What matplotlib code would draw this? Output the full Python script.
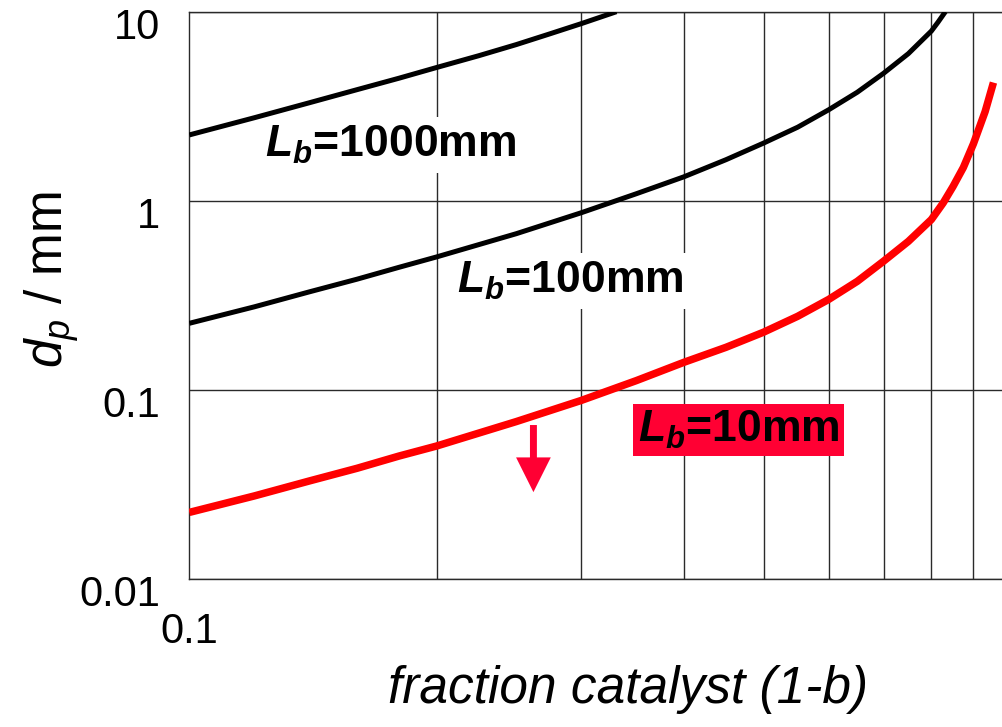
import matplotlib
matplotlib.use("Agg")
import matplotlib.pyplot as plt
from matplotlib.ticker import FixedLocator, FixedFormatter, NullLocator, NullFormatter
from matplotlib.transforms import ScaledTranslation

# Particle diameter versus catalyst fraction for three bed lengths
x_lb1000 = [0.100, 0.120, 0.140, 0.160, 0.180, 0.200, 0.225, 0.250, 0.275, 0.300, 0.331]
y_lb1000 = [2.23, 2.75, 3.30, 3.87, 4.45, 5.07, 5.85, 6.70, 7.65, 8.65, 10.0]

x_lb100 = [0.100, 0.120, 0.140, 0.160, 0.180, 0.200, 0.250, 0.300, 0.350, 0.400,
           0.450, 0.500, 0.550, 0.600, 0.650, 0.700, 0.750, 0.800, 0.815, 0.832]
y_lb100 = [0.225, 0.275, 0.330, 0.385, 0.445, 0.505, 0.670, 0.865, 1.09, 1.34,
           1.65, 2.02, 2.45, 3.03, 3.75, 4.73, 6.00, 7.90, 8.80, 10.0]

x_lb10 = [0.100, 0.120, 0.140, 0.160, 0.180, 0.200, 0.250, 0.300, 0.350, 0.400,
          0.450, 0.500, 0.550, 0.600, 0.650, 0.700, 0.750, 0.800, 0.827, 0.850,
          0.875, 0.900, 0.930, 0.952]
y_lb10 = [0.0225, 0.0275, 0.0330, 0.0385, 0.0447, 0.0505, 0.068, 0.088, 0.112, 0.140,
          0.168, 0.202, 0.245, 0.301, 0.375, 0.480, 0.610, 0.796, 0.975, 1.19,
          1.50, 2.00, 2.96, 4.22]

x_tick_vals = [0.1, 1]
x_tick_labels = ["0.1", "1"]
x_minor_vals = [0.2, 0.3, 0.4, 0.5, 0.6, 0.7, 0.8, 0.9]
y_tick_vals = [0.01, 0.1, 1, 10]
y_tick_labels = ["0.01", "0.1", "1", "10"]

plt.rcParams["font.family"] = ["Liberation Sans", "DejaVu Sans"]
plt.rcParams["mathtext.fontset"] = "custom"
plt.rcParams["mathtext.rm"] = "Liberation Sans"
plt.rcParams["mathtext.it"] = "Liberation Sans:italic"
plt.rcParams["mathtext.bf"] = "Liberation Sans:bold"
plt.rcParams["mathtext.bfit"] = "Liberation Sans:bold:italic"

W, H = 1002, 727
fig = plt.figure(figsize=(W / 100, H / 100), dpi=100)
ax = fig.add_axes([189.3 / W, (H - 579) / H, 821.7 / W, (579 - 11.7) / H])
ax.set_xscale("log")
ax.set_yscale("log")
ax.set_xlim(0.1, 1)
ax.set_ylim(0.01, 10)

grid_color = "#2a2a2a"
ax.xaxis.set_major_locator(FixedLocator(x_tick_vals))
ax.xaxis.set_major_formatter(FixedFormatter(x_tick_labels))
ax.xaxis.set_minor_locator(FixedLocator(x_minor_vals))
ax.xaxis.set_minor_formatter(NullFormatter())
ax.yaxis.set_major_locator(FixedLocator(y_tick_vals))
ax.yaxis.set_major_formatter(FixedFormatter(y_tick_labels))
ax.yaxis.set_minor_locator(NullLocator())
ax.grid(which="minor", axis="x", color=grid_color, lw=1.0)
ax.grid(which="major", axis="y", color=grid_color, lw=1.0)
ax.set_axisbelow(True)
for side in ["left", "top", "bottom"]:
    ax.spines[side].set_color(grid_color)
    ax.spines[side].set_linewidth(1.0)
ax.spines["right"].set_visible(False)

ax.tick_params(which="both", length=0)
ax.tick_params(axis="x", labelsize=30, pad=24)
ax.tick_params(axis="y", labelsize=30, pad=21)
shift = ScaledTranslation(0, -12 / 100, fig.dpi_scale_trans)
for lab in ax.get_yticklabels():
    lab.set_transform(lab.get_transform() + shift)

ax.plot(x_lb1000, y_lb1000, color="black", lw=3.6, solid_capstyle="butt", zorder=3)
ax.plot(x_lb100, y_lb100, color="black", lw=3.6, solid_capstyle="butt", zorder=3)
ax.plot(x_lb10, y_lb10, color="#ff0000", lw=5.4, solid_capstyle="butt", zorder=3)

# curve labels sit over the grid but under the curves
label_kw = dict(fontsize=32, fontweight="bold", ha="left", va="center", zorder=2)
ax.text(0.1236, 1.97, r"$\mathbfit{L}_{\mathbfit{b}}$=1000mm",
        bbox=dict(facecolor="white", edgecolor="none", pad=5), **label_kw)
ax.text(0.2117, 0.377, r"$\mathbfit{L}_{\mathbfit{b}}$=100mm",
        bbox=dict(facecolor="white", edgecolor="none", pad=5), **label_kw)
ax.text(0.3513, 0.0616, r"$\mathbfit{L}_{\mathbfit{b}}$=10mm",
        bbox=dict(facecolor="#ff0033", edgecolor="none", pad=3.5), **label_kw)

ax.annotate("", xy=(0.2623, 0.0288), xytext=(0.2623, 0.0652),
            arrowprops=dict(arrowstyle="simple,head_length=25,head_width=25,tail_width=5",
                            mutation_scale=1, color="#ff0033", lw=0,
                            shrinkA=0, shrinkB=0))

fig.text(52 / W, 1 - 280 / H, r"$d_p$ / mm", rotation=90, ha="center", va="center",
         fontsize=37)
fig.text(628.5 / W, 1 - 690 / H, "fraction catalyst (1-b)", style="italic",
         ha="center", va="center", fontsize=37)

fig.savefig("out.png", dpi=100)
